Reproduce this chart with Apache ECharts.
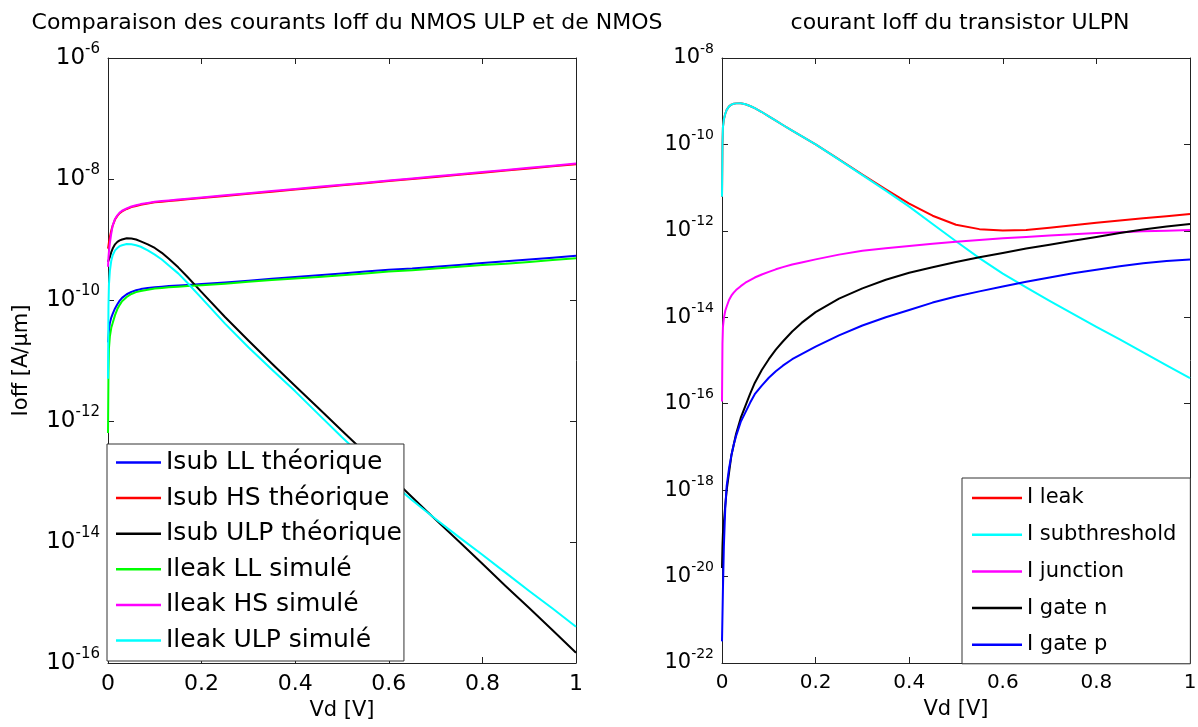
<!DOCTYPE html>
<html>
<head>
<meta charset="utf-8">
<title>Ioff NMOS ULP</title>
<script src="https://cdn.jsdelivr.net/npm/echarts@6/dist/echarts.min.js"></script>
<style>
  html, body { margin: 0; padding: 0; background: #fff; }
  #chart { width: 1198px; height: 727px; }
</style>
</head>
<body>
<div id="chart"></div>
<script>
// tension Vd [V], commune aux deux graphes
const vd = [0, 0.001, 0.002, 0.004, 0.007, 0.01, 0.015, 0.02, 0.025, 0.03, 0.04, 0.05, 0.06, 0.07, 0.085,
  0.1, 0.115, 0.13, 0.15, 0.17, 0.2, 0.25, 0.3, 0.35, 0.4, 0.45, 0.5, 0.55, 0.6, 0.65, 0.7, 0.75, 0.8,
  0.85, 0.9, 0.95, 1];

// graphe de gauche : décades du courant, log10(I) avec I en A/um
const isubLL = [-10.7, -10.6, -10.5, -10.38, -10.29, -10.23, -10.14, -10.07, -10.01, -9.965, -9.905, -9.865, -9.84, -9.82, -9.8,
  -9.79, -9.78, -9.77, -9.76, -9.75, -9.735, -9.71, -9.68, -9.65, -9.62, -9.59, -9.56, -9.53, -9.5, -9.48, -9.45, -9.42, -9.39,
  -9.36, -9.33, -9.3, -9.27];
const isubHS = [-9.15, -9.1, -9.05, -8.96, -8.85, -8.77, -8.67, -8.61, -8.565, -8.535, -8.495, -8.465, -8.445, -8.425, -8.405,
  -8.385, -8.375, -8.365, -8.35, -8.335, -8.315, -8.28, -8.245, -8.21, -8.175, -8.14, -8.105, -8.07, -8.035, -8.0, -7.965, -7.93, -7.895,
  -7.86, -7.825, -7.79, -7.755];
const isubULP = [-9.37, -9.35, -9.33, -9.29, -9.21, -9.15, -9.08, -9.04, -9.015, -9.0, -8.98, -8.985, -9.0, -9.03, -9.08,
  -9.14, -9.22, -9.32, -9.46, -9.62, -9.87, -10.28, -10.67, -11.05, -11.42, -11.79, -12.16, -12.53, -12.89, -13.26, -13.63, -13.99, -14.36,
  -14.73, -15.09, -15.46, -15.83];
const ileakLL = [-12.2, -11.2, -10.8, -10.6, -10.46, -10.38, -10.25, -10.15, -10.08, -10.02, -9.95, -9.9, -9.87, -9.85, -9.83,
  -9.81, -9.8, -9.79, -9.78, -9.77, -9.755, -9.73, -9.7, -9.67, -9.645, -9.62, -9.59, -9.56, -9.53, -9.51, -9.48, -9.45, -9.42,
  -9.4, -9.37, -9.34, -9.31];
const ileakHS = [-9.45, -9.3, -9.2, -9.06, -8.9, -8.77, -8.66, -8.6, -8.555, -8.525, -8.485, -8.455, -8.435, -8.415, -8.395,
  -8.375, -8.365, -8.355, -8.34, -8.325, -8.305, -8.27, -8.235, -8.2, -8.165, -8.13, -8.095, -8.06, -8.025, -7.99, -7.955, -7.92, -7.885,
  -7.85, -7.815, -7.78, -7.745];
const ileakULP = [-11.3, -10.1, -9.75, -9.52, -9.35, -9.26, -9.18, -9.14, -9.11, -9.095, -9.075, -9.08, -9.095, -9.12, -9.18,
  -9.25, -9.33, -9.43, -9.56, -9.72, -9.97, -10.39, -10.78, -11.15, -11.51, -11.89, -12.27, -12.63, -12.98, -13.31, -13.62, -13.92, -14.21,
  -14.51, -14.81, -15.1, -15.4];

// graphe de droite : log10 du courant du transistor ULPN
const iLeak = [-11.21, -10.0, -9.6, -9.42, -9.29, -9.2, -9.12, -9.08, -9.06, -9.05, -9.045, -9.07, -9.11, -9.16, -9.25,
  -9.35, -9.45, -9.55, -9.68, -9.81, -10.0, -10.345, -10.7, -11.04, -11.37, -11.65, -11.86, -11.96, -11.99, -11.98, -11.93, -11.87, -11.81,
  -11.76, -11.71, -11.66, -11.61];
const iSub = [-11.21, -10.0, -9.6, -9.42, -9.29, -9.2, -9.12, -9.08, -9.06, -9.05, -9.045, -9.07, -9.11, -9.16, -9.25,
  -9.35, -9.45, -9.55, -9.68, -9.81, -10.0, -10.35, -10.71, -11.07, -11.44, -11.84, -12.24, -12.63, -12.99, -13.31, -13.62, -13.92, -14.22,
  -14.51, -14.81, -15.11, -15.41];
const iJunction = [-15.95, -14.6, -14.22, -14.02, -13.85, -13.75, -13.6, -13.5, -13.43, -13.37, -13.28, -13.2, -13.14, -13.08, -13.01,
  -12.95, -12.89, -12.84, -12.78, -12.73, -12.66, -12.55, -12.46, -12.4, -12.35, -12.3, -12.25, -12.21, -12.17, -12.14, -12.11, -12.08, -12.05,
  -12.03, -12.01, -12.0, -11.98];
const iGateN = [-19.8, -19.3, -19.0, -18.75, -18.35, -18.0, -17.6, -17.2, -16.95, -16.7, -16.33, -16.05, -15.77, -15.52, -15.22,
  -14.97, -14.75, -14.56, -14.33, -14.13, -13.88, -13.57, -13.33, -13.13, -12.97, -12.84, -12.72, -12.61, -12.51, -12.41, -12.32, -12.23, -12.14,
  -12.05, -11.97, -11.9, -11.84];
const iGateP = [-21.5, -20.9, -20.3, -19.3, -18.4, -17.9, -17.5, -17.2, -16.95, -16.75, -16.42, -16.2, -15.98, -15.78, -15.58,
  -15.4, -15.25, -15.12, -14.97, -14.85, -14.68, -14.42, -14.19, -14.0, -13.83, -13.66, -13.52, -13.4, -13.29, -13.18, -13.08, -12.98, -12.9,
  -12.82, -12.75, -12.7, -12.66];

const xTicks = [0, 0.2, 0.4, 0.6, 0.8, 1];

const FONT = 'DejaVu Sans';

function line(name, color, exps, axisIdx) {
  return {
    name: name,
    type: 'line',
    xAxisIndex: axisIdx,
    yAxisIndex: axisIdx,
    data: vd.map((x, i) => [x, exps[i]]),
    showSymbol: false,
    symbol: 'none',
    lineStyle: { color: color, width: 2, join: 'round' },
    itemStyle: { color: color },
    emphasis: { disabled: true }
  };
}

function xAxisDef(grid, big, pos) {
  const fs = big ? 22 : 20;
  const show = pos === 'bottom';
  return {
    type: 'value', gridIndex: grid, position: pos, min: 0, max: 1, interval: 0.2,
    name: show ? 'Vd [V]' : '', nameLocation: 'middle', nameGap: 36,
    nameTextStyle: { fontFamily: FONT, fontSize: 21, color: '#000' },
    axisLine: { show: true, onZero: false, lineStyle: { color: '#222', width: 1 } },
    axisTick: { show: true, inside: true, length: 6, lineStyle: { color: '#222' } },
    axisLabel: {
      show: show, margin: 10, color: '#000', fontFamily: FONT, fontSize: fs,
      formatter: v => xTicks.includes(+v.toFixed(1)) ? String(+v.toFixed(1)) : ''
    },
    splitLine: { show: false }
  };
}

// axe en décades : la valeur e est affichée 10^e
function yAxisDef(grid, minExp, maxExp, big, pos) {
  const show = pos === 'left';
  return {
    type: 'value', gridIndex: grid, position: pos, min: minExp, max: maxExp, interval: 2,
    name: (show && big) ? 'Ioff [A/µm]' : '', nameLocation: 'middle', nameGap: 76, nameRotate: 90,
    nameTextStyle: { fontFamily: FONT, fontSize: 21, color: '#000' },
    axisLine: { show: true, onZero: false, lineStyle: { color: '#222', width: 1 } },
    axisTick: { show: true, inside: true, length: 6, lineStyle: { color: '#222' } },
    axisLabel: {
      show: show, margin: 8, showMinLabel: true, showMaxLabel: true,
      formatter: v => '{b|10}{s|' + Math.round(v) + '}',
      rich: {
        b: { fontFamily: FONT, fontSize: big ? 23 : 21, color: '#000' },
        s: { fontFamily: FONT, fontSize: big ? 15 : 14, color: '#000', padding: [0, 0, 18, 0] }
      }
    },
    splitLine: { show: false }
  };
}

const chart = echarts.init(document.getElementById('chart'), null, { renderer: 'canvas' });

const option = {
  animation: false,
  backgroundColor: '#fff',
  title: [
    {
      text: 'Comparaison des courants Ioff du NMOS ULP et de NMOS',
      left: 342, top: 7, textAlign: 'center',
      textStyle: { fontFamily: FONT, fontSize: 22, fontWeight: 'normal', color: '#000' }
    },
    {
      text: 'courant Ioff du transistor ULPN',
      left: 955, top: 7, textAlign: 'center',
      textStyle: { fontFamily: FONT, fontSize: 22, fontWeight: 'normal', color: '#000' }
    }
  ],
  grid: [
    { left: 108, top: 58, width: 468, height: 605, containLabel: false, outerBoundsMode: 'none' },
    { left: 722, top: 58, width: 468, height: 605, containLabel: false, outerBoundsMode: 'none' }
  ],
  legend: [
    {
      orient: 'vertical', left: 107, top: 444,
      padding: [5, 2, 7, 9], itemGap: 8.6, itemWidth: 45, itemHeight: 2.5, icon: 'rect',
      backgroundColor: '#fff', borderColor: '#333', borderWidth: 1, borderRadius: 0,
      textStyle: { fontFamily: FONT, fontSize: 25, lineHeight: 27, color: '#000' },
      data: ['Isub LL théorique', 'Isub HS théorique', 'Isub ULP théorique',
        'Ileak LL simulé', 'Ileak HS simulé', 'Ileak ULP simulé'],
      selectedMode: false
    },
    {
      orient: 'vertical', left: 962, top: 478,
      padding: [8, 14, 7, 10], itemGap: 12.7, itemWidth: 50, itemHeight: 2.5, icon: 'rect',
      backgroundColor: '#fff', borderColor: '#333', borderWidth: 1, borderRadius: 0,
      textStyle: { fontFamily: FONT, fontSize: 21, lineHeight: 24, color: '#000' },
      data: ['I leak', 'I subthreshold', 'I junction', 'I gate n', 'I gate p'],
      selectedMode: false
    }
  ],
  xAxis: [
    xAxisDef(0, true, 'bottom'),
    xAxisDef(1, false, 'bottom'),
    xAxisDef(0, true, 'top'),
    xAxisDef(1, false, 'top')
  ],
  yAxis: [
    yAxisDef(0, -16, -6, true, 'left'),
    yAxisDef(1, -22, -8, false, 'left'),
    yAxisDef(0, -16, -6, true, 'right'),
    yAxisDef(1, -22, -8, false, 'right')
  ],
  series: [
    line('Isub LL théorique', '#0000ff', isubLL, 0),
    line('Isub HS théorique', '#ff0000', isubHS, 0),
    line('Isub ULP théorique', '#000000', isubULP, 0),
    line('Ileak LL simulé', '#00ff00', ileakLL, 0),
    line('Ileak HS simulé', '#ff00ff', ileakHS, 0),
    line('Ileak ULP simulé', '#00ffff', ileakULP, 0),
    line('I leak', '#ff0000', iLeak, 1),
    line('I subthreshold', '#00ffff', iSub, 1),
    line('I junction', '#ff00ff', iJunction, 1),
    line('I gate n', '#000000', iGateN, 1),
    line('I gate p', '#0000ff', iGateP, 1)
  ]
};

chart.setOption(option);
</script>
</body>
</html>
